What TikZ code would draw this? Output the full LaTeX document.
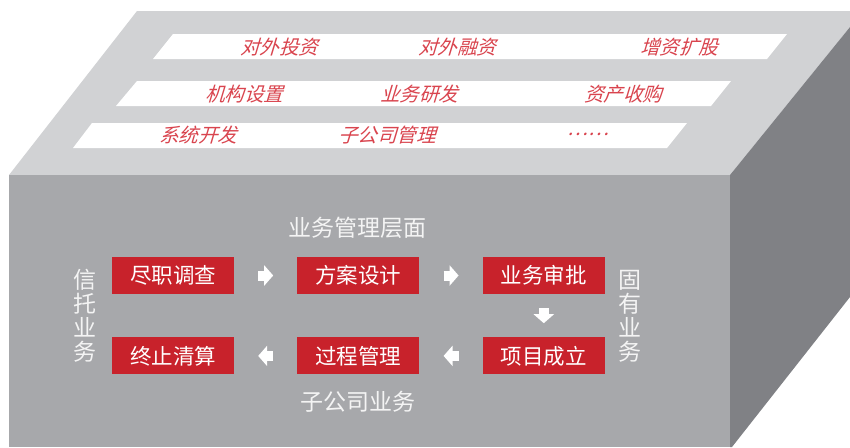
\documentclass[tikz,border=0pt]{standalone}
\usepackage{fontspec}
\usepackage{tikz}
\usetikzlibrary{calc}
\usetikzlibrary{positioning}
\usetikzlibrary{arrows.meta}

\newfontfamily\cjk{Noto Sans CJK SC}
\newfontfamily\cjkslant[FakeSlant=0.3]{Noto Sans CJK SC}

\definecolor{topgray}{HTML}{D1D2D4}
\definecolor{frontgray}{HTML}{A7A8AB}
\definecolor{sidegray}{HTML}{808185}
\definecolor{boxred}{HTML}{C8222B}
\definecolor{itemred}{HTML}{D9444E}
\definecolor{softwhite}{HTML}{F4F4F4}

\tikzset{
  stepbox/.style={fill=boxred,text=white,minimum width=122pt,minimum height=37pt,inner sep=0pt,font=\cjk\fontsize{21.5}{21.5}\selectfont},
  flow/.style={draw=white,line width=10pt,shorten <=24pt,shorten >=24pt,-{Triangle[length=9pt,width=20pt]}},
  downflow/.style={flow,shorten <=14pt,shorten >=14pt},
  item/.style={text=itemred,inner sep=0pt,font=\cjkslant\fontsize{19.5}{19.5}\selectfont},
  band/.style={fill=white},
  sidetext/.style={text=softwhite,inner sep=0pt,align=center,font=\cjk\fontsize{23}{24}\selectfont}
}

\begin{document}
\begin{tikzpicture}[x=1pt,y=-1pt]
\useasboundingbox (0,0) rectangle (850,447);

\fill[topgray] (9,175) -- (137,11) -- (850,11) -- (850,27) -- (730,175) -- cycle;
\fill[frontgray] (9,175) rectangle (730,447);
\fill[sidegray] (730,175) -- (850,27) -- (850,297) -- (732,447) -- (730,447) -- cycle;

\fill[band] (153,59) -- (173,34) -- (787,34) -- (767,59) -- cycle;
\fill[band] (116,106) -- (137,81) -- (731,81) -- (711,106) -- cycle;
\fill[band] (73,148) -- (92,123) -- (687,123) -- (667,148) -- cycle;

\node[item] (dwtz) at (279,47) {对外投资};
\node[item] (dwrz) at (457,47) {对外融资};
\node[item] (zzkg) at (679,47) {增资扩股};
\node[item] (jgsz) at (244,94) {机构设置};
\node[item] (ywyf) at (419,94) {业务研发};
\node[item] (zcsg) at (623,94) {资产收购};
\node[item] (xtkf) at (198,135) {系统开发};
\node[item] (zgsgl) at (387,135) {子公司管理};
\node[item] (more) at (588,134) {……};

\node[stepbox] (jdtc) at (173,275.5) {尽职调查};
\node[stepbox,right=63pt of jdtc] (fasj) {方案设计};
\node[stepbox,right=63pt of fasj] (ywsp) {业务审批};
\node[stepbox,below=43pt of ywsp] (xmcl) {项目成立};
\node[stepbox,left=63pt of xmcl] (gcgl) {过程管理};
\node[stepbox,left=63pt of gcgl] (zzqs) {终止清算};

\draw[flow] (jdtc) -- (fasj);
\draw[flow] (fasj) -- (ywsp);
\draw[downflow] (ywsp) -- (xmcl);
\draw[flow] (xmcl) -- (gcgl);
\draw[flow] (gcgl) -- (zzqs);

\node[sidetext] (ywglcm) at (357,228) {业务管理层面};
\node[sidetext] (zgsyw) at (358,402) {子公司业务};
\node[sidetext] (xtyw) at (85,315.5) {信\\托\\业\\务};
\node[sidetext] (gyyw) at (630,316.5) {固\\有\\业\\务};
\end{tikzpicture}
\end{document}
